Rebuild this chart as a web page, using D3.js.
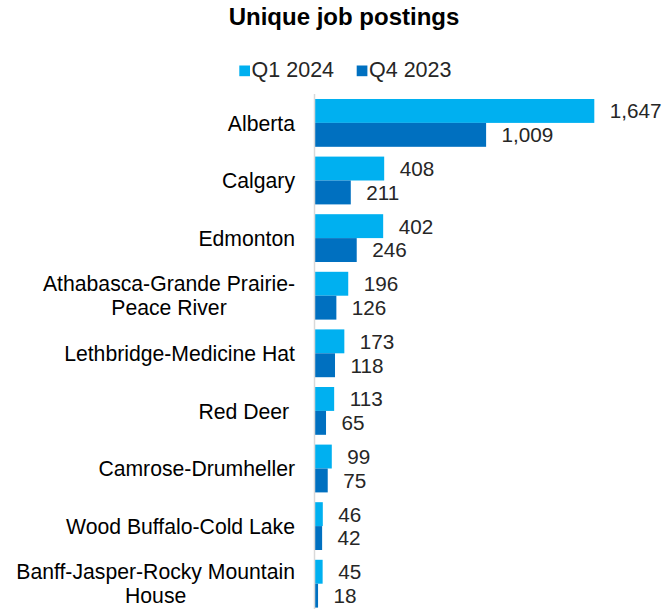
<!DOCTYPE html>
<html>
<head>
<meta charset="utf-8">
<script src="https://cdn.jsdelivr.net/npm/d3@7"></script>
<style>
  html, body { margin: 0; padding: 0; background: #fff; }
  svg { display: block; font-family: "Liberation Sans", Arial, sans-serif; }
  .cat { white-space: pre; }
</style>
</head>
<body>
<svg id="chart" width="663" height="609"></svg>
<script>
// Regions (multi-line names split with "\n")
const regions = [
  "Alberta",
  "Calgary",
  "Edmonton",
  "Athabasca-Grande Prairie-\nPeace River",
  "Lethbridge-Medicine Hat",
  "Red Deer ",
  "Camrose-Drumheller",
  "Wood Buffalo-Cold Lake",
  "Banff-Jasper-Rocky Mountain\nHouse"
];
const seriesNames = ["Q1 2024", "Q4 2023"];
const q1_2024 = [1647, 408, 402, 196, 173, 113, 99, 46, 45];
const q4_2023 = [1009, 211, 246, 126, 118, 65, 75, 42, 18];
const seriesColors = ["#00B0F0", "#0070C0"];

const svg = d3.select("#chart");
const fmt = d3.format(",");

const rows = regions.map((r, i) => ({ region: r, values: [q1_2024[i], q4_2023[i]] }));

const x = d3.scaleLinear().domain([0, 1647]).range([315, 594.3]);
const y = d3.scaleBand().domain(regions).range([94.1, 612.5]).paddingInner(0.17).paddingOuter(0.085);
const ySub = d3.scaleBand().domain(seriesNames).range([0, y.bandwidth()]);

// Title
svg.append("text")
  .attr("x", 344).attr("y", 25)
  .attr("text-anchor", "middle")
  .style("font-size", "24px").style("font-weight", "bold").style("fill", "#000")
  .text("Unique job postings");

// Legend
const legendItems = [
  { name: seriesNames[0], color: seriesColors[0], x: 239.3 },
  { name: seriesNames[1], color: seriesColors[1], x: 356.7 }
];
const lg = svg.append("g");
legendItems.forEach(d => {
  lg.append("rect").attr("x", d.x).attr("y", 65.5).attr("width", 10.7).attr("height", 10.7).attr("fill", d.color);
  lg.append("text").attr("x", d.x + 12.3).attr("y", 76.7)
    .style("font-size", "21.5px").style("fill", "#262626").text(d.name);
});

// Bars
const groups = svg.append("g").selectAll("g").data(rows).join("g")
  .attr("transform", d => `translate(0,${y(d.region)})`);

groups.selectAll("rect").data(d => d.values.map((v, k) => ({ v, k })))
  .join("rect")
  .attr("x", x(0))
  .attr("y", d => ySub(seriesNames[d.k]))
  .attr("width", d => x(d.v) - x(0))
  .attr("height", ySub.bandwidth())
  .attr("fill", d => seriesColors[d.k]);

// Value labels
groups.selectAll("text.val").data(d => d.values.map((v, k) => ({ v, k })))
  .join("text")
  .attr("class", "val")
  .attr("x", d => x(d.v) + 15.5)
  .attr("y", d => ySub(seriesNames[d.k]) + ySub.bandwidth() / 2)
  .attr("dy", "0.36em")
  .style("font-size", "20.7px").style("fill", "#262626")
  .text(d => fmt(d.v));

// Vertical axis line
svg.append("line")
  .attr("x1", 314.5).attr("x2", 314.5)
  .attr("y1", 94).attr("y2", 609)
  .attr("stroke", "#D9D9D9").attr("stroke-width", 1.5);

// Category labels (right-aligned block, lines centred within block)
const labelRight = 295;
const lineGap = 24;
rows.forEach(d => {
  const lines = d.region.split("\n");
  const cy = y(d.region) + y.bandwidth() / 2;
  const g = svg.append("g");
  const texts = lines.map((ln, j) => g.append("text")
    .attr("class", "cat")
    .attr("y", cy + (j - (lines.length - 1) / 2) * lineGap)
    .attr("dy", "0.36em")
    .style("font-size", "21.2px").style("fill", "#000")
    .text(ln));
  const widths = texts.map(t => t.node().getComputedTextLength());
  const maxW = d3.max(widths);
  const centre = labelRight - maxW / 2;
  texts.forEach(t => t.attr("x", centre).attr("text-anchor", "middle"));
});
</script>
</body>
</html>
